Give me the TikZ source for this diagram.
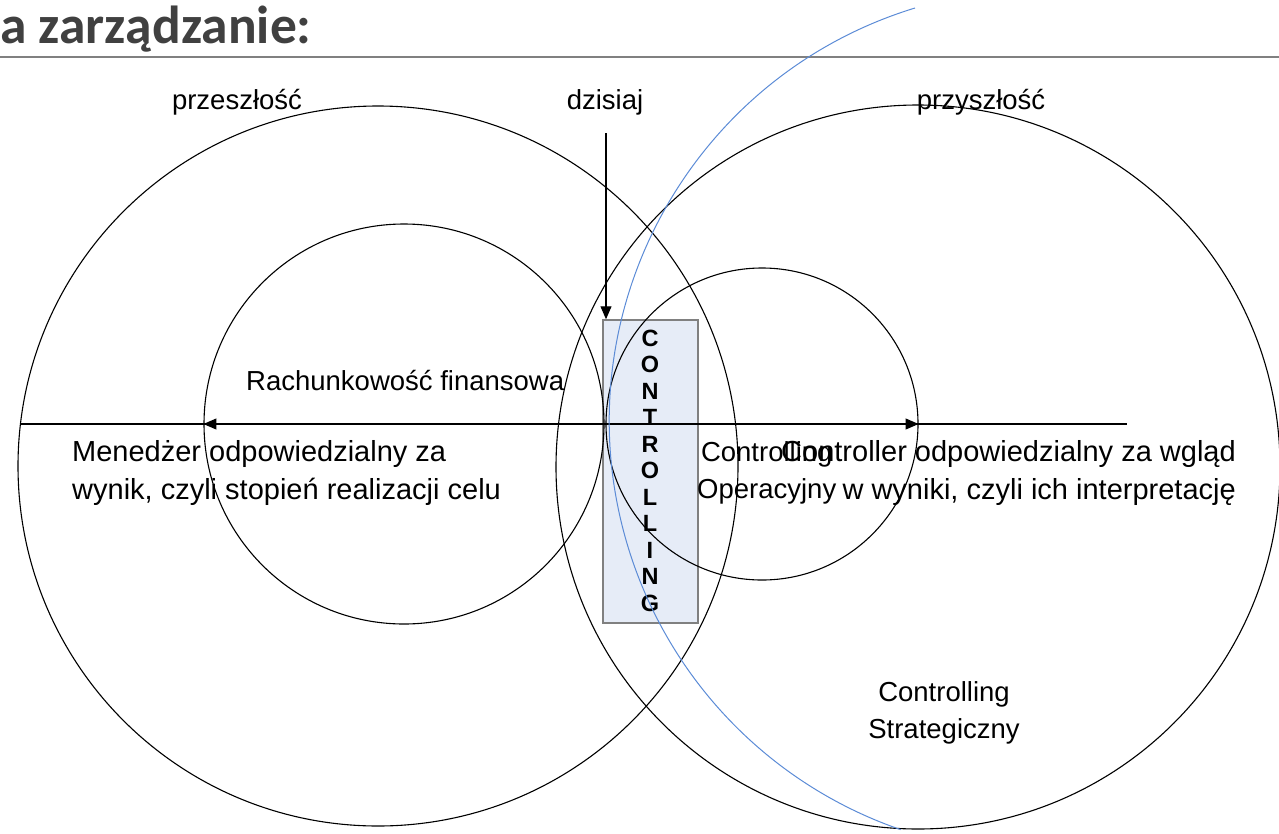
\documentclass[tikz,border=0pt]{standalone}
\usepackage{fontspec}
\setmainfont{Liberation Sans}
\newfontfamily\titlefont{Carlito}
\usetikzlibrary{arrows.meta}
\definecolor{boxfill}{HTML}{E6ECF7}
\definecolor{boxdraw}{HTML}{808080}
\definecolor{curveblue}{HTML}{5B8BD6}
\definecolor{titlegray}{HTML}{404040}
\begin{document}
\begin{tikzpicture}[x=1pt,y=-1pt,
  ring/.style={circle,draw=black,line width=1.1pt,inner sep=0pt},
  txt/.style={font=\fontsize{27.5}{37.5}\selectfont,inner sep=0pt},
  bigtxt/.style={font=\fontsize{29}{38}\selectfont,inner sep=0pt},
  letter/.style={font=\fontsize{23.5}{26}\selectfont\bfseries,inner sep=0pt},
  arr/.style={line width=1.1pt,-{Triangle[length=13pt,width=11pt]}}]
\useasboundingbox (0,0) rectangle (1279,833);
\clip (0,0) rectangle (1279,833);
\def\ax{424};
% title
\node[anchor=base west,inner sep=0pt,text=titlegray,font=\titlefont\bfseries\fontsize{53.5}{60}\selectfont] (title) at (0,43) {a zarządzanie:};
\draw[draw=boxdraw,line width=1.5pt] (0,57) -- (1279,57);
% controlling box
\node[draw=boxdraw,fill=boxfill,line width=1.5pt,minimum width=95pt,minimum height=303pt,inner sep=0pt] (ctrl) at (650.5,471.5) {};
\foreach \l [count=\i] in {C,O,N,T,R,O,L,L,I,N,G}
  \node[letter] (c\i) at (650,311.5+26.5*\i) {\l};
% circles
\node[ring,minimum size=720pt] (past) at (378,466) {};
\node[ring,minimum size=724pt] (future) at (918,467) {};
\node[ring,minimum size=400pt] (fin) at (404,\ax) {};
\node[ring,minimum size=312pt] (oper) at (762,\ax) {};
% time axis
\coordinate (now) at (606,\ax);
\coordinate (lend) at (20,\ax);
\coordinate (rend) at (1127,\ax);
\draw[line width=1.1pt] (lend) -- (rend);
\draw[arr] (now) -- (fin.west);
\draw[arr] (now) -- (oper.east);
% labels
\node[txt,anchor=base] (pastlbl) at (237,109) {przeszłość};
\node[txt,anchor=base] (today) at (605,109) {dzisiaj};
\node[txt,anchor=base] (futurelbl) at (981,109) {przyszłość};
\coordinate (todaytop) at (606,133);
\draw[arr] (todaytop) -- (todaytop |- ctrl.north);
\node[txt,anchor=base west] (finlbl) at (246,390) {Rachunkowość finansowa};
\node[bigtxt,anchor=north west,align=left] (manager) at (72,440) {Menedżer odpowiedzialny za\\wynik, czyli stopień realizacji celu};
\node[txt,anchor=north west,align=center] (operlbl) at (697,441) {Controlling\\Operacyjny};
\node[bigtxt,anchor=north east,align=right] (controller) at (1236,440) {Controller odpowiedzialny za wgląd\\w wyniki, czyli ich interpretację};
\node[txt,anchor=north,align=center] (stratlbl) at (944,681) {Controlling\\Strategiczny};
% border of the controlling view
\coordinate (bstart) at (915,8);
\draw[curveblue,line width=1pt] (bstart) arc[start angle=107,end angle=251,radius=432pt];
\end{tikzpicture}
\end{document}
